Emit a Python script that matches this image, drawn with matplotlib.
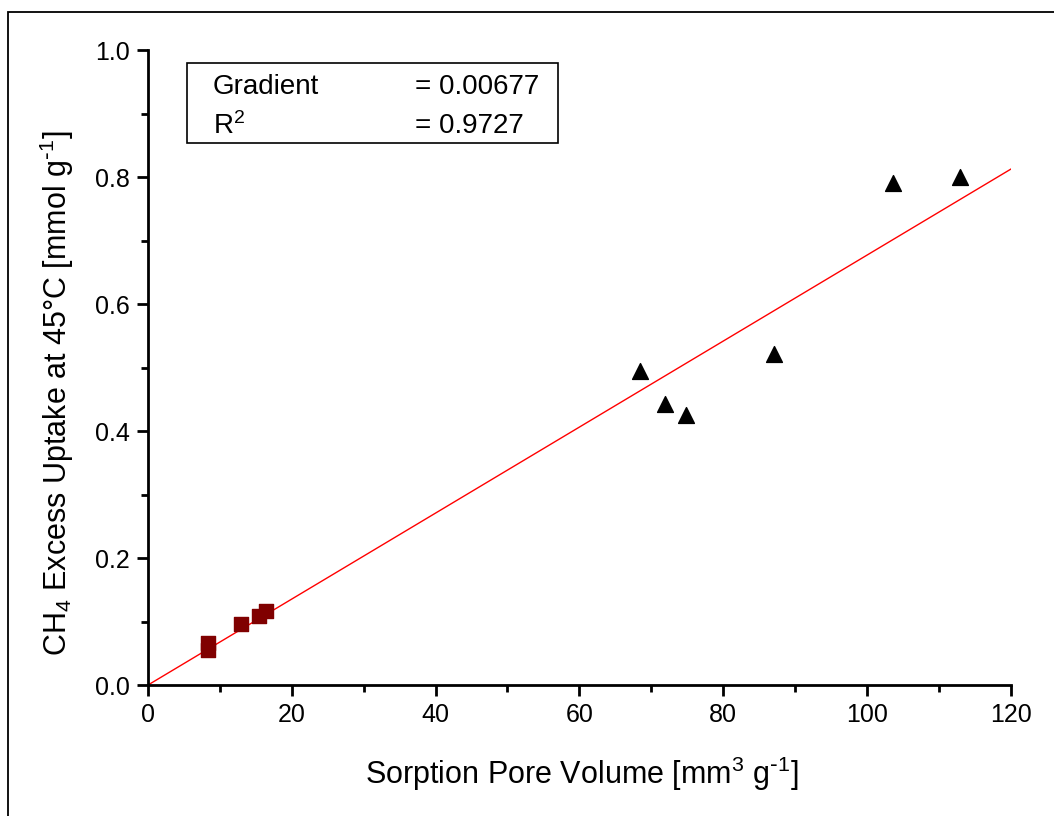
import numpy as np
import matplotlib
matplotlib.use("Agg")
from matplotlib import pyplot as plt
from matplotlib.patches import Rectangle

plt.rcParams['font.family'] = ['Liberation Sans', 'DejaVu Sans']
plt.rcParams['mathtext.default'] = 'regular'

# data
square_x = [8.3, 8.3, 12.9, 15.4, 16.4]
square_y = [0.066, 0.055, 0.096, 0.109, 0.117]
triangle_x = [68.5, 71.9, 74.8, 87.0, 103.6, 113.0]
triangle_y = [0.494, 0.443, 0.426, 0.522, 0.790, 0.800]
gradient = 0.00677
r_squared = 0.9727
fit_x = [0, 120]

fig = plt.figure(figsize=(10.54, 8.16), dpi=100)
ax = fig.add_axes([0.1404, 0.1605, 0.8186, 0.7782])

# outer frame
fig.patches.append(Rectangle((8 / 1054, -0.05), 1.1, 1 - 12 / 816 + 0.05,
                             transform=fig.transFigure, fill=False,
                             edgecolor='black', linewidth=1.3, zorder=0))

ax.plot(fit_x, [gradient * v for v in fit_x], color='red', linewidth=1.0, zorder=2)
ax.scatter(square_x, square_y, marker='s', s=95, color='#800000', zorder=3)
ax.scatter(triangle_x, triangle_y, marker='^', s=130, color='black', zorder=3)

ax.set_xlim(0, 120)
ax.set_ylim(0, 1.0)
ax.set_xticks(np.arange(0, 121, 20))
ax.set_xticks(np.arange(10, 120, 20), minor=True)
ax.set_yticks(np.arange(0, 1.01, 0.2))
ax.set_yticks(np.arange(0.1, 1.0, 0.2), minor=True)
ax.yaxis.set_major_formatter(matplotlib.ticker.FormatStrFormatter('%.1f'))

for side in ['top', 'right']:
    ax.spines[side].set_visible(False)
for side in ['left', 'bottom']:
    ax.spines[side].set_linewidth(2.0)
ax.tick_params(which='major', direction='out', length=8, width=2.0, labelsize=18, pad=5)
ax.tick_params(which='minor', direction='out', length=5, width=2.0)

ax.set_xlabel(r'Sorption Pore Volume [mm$^3$ g$^{\text{-}1}$]', fontsize=22)
ax.set_ylabel(r'CH$_4$ Excess Uptake at 45°C [mmol g$^{\text{-}1}$]', fontsize=22)
ax.xaxis.set_label_coords(0.503, -0.11)
ax.yaxis.set_label_coords(-0.083, 0.46)

# fit statistics box
box = Rectangle((0.045, 0.853), 0.43, 0.126, transform=ax.transAxes,
                fill=False, edgecolor='black', linewidth=1.2)
ax.add_patch(box)
ax.text(0.075, 0.942, 'Gradient', transform=ax.transAxes, fontsize=20, va='center')
ax.text(0.31, 0.942, f'= {gradient:.5f}', transform=ax.transAxes, fontsize=20, va='center')
ax.text(0.075, 0.880, 'R$^2$', transform=ax.transAxes, fontsize=20, va='center')
ax.text(0.31, 0.880, f'= {r_squared:.4f}', transform=ax.transAxes, fontsize=20, va='center')

fig.savefig('out.png', dpi=100)
